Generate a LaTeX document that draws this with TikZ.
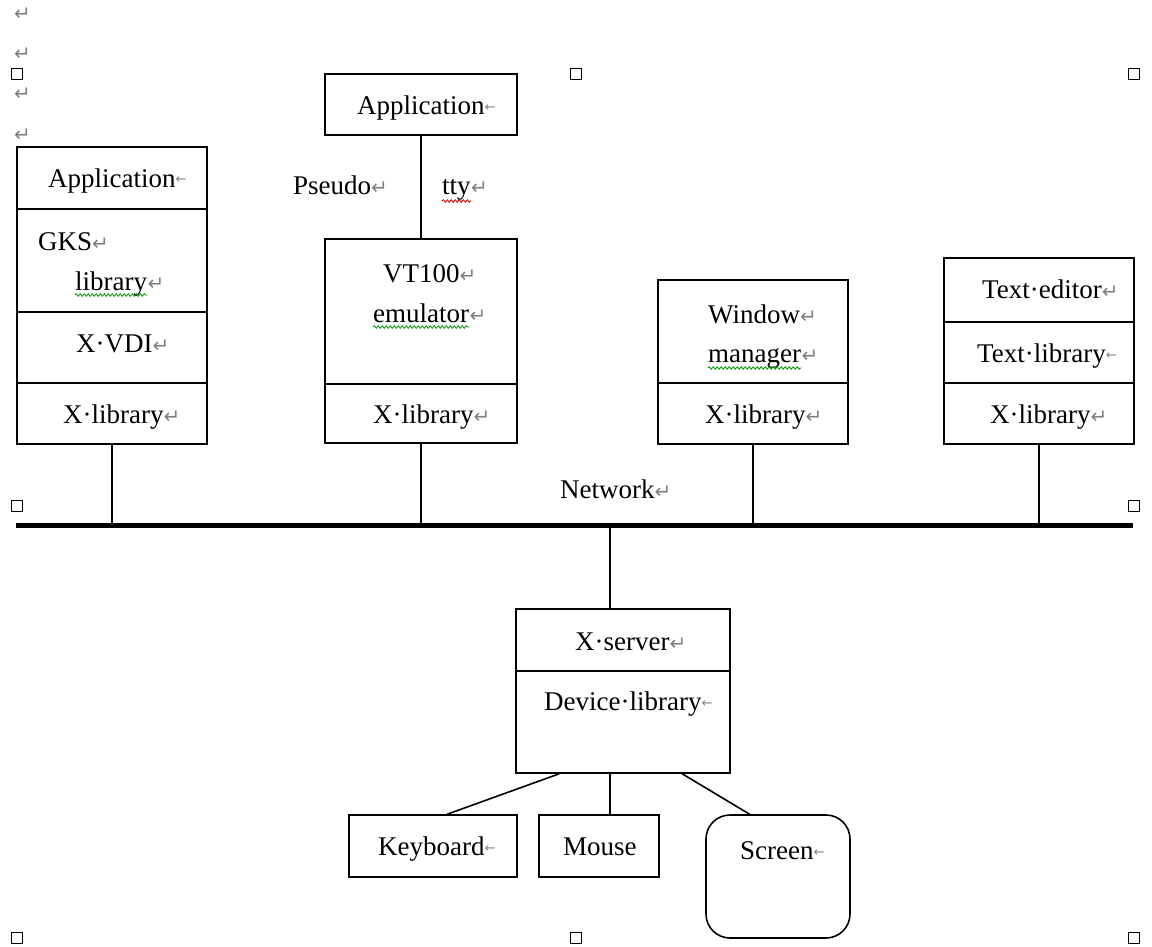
\documentclass[tikz,border=0pt]{standalone}
\usepackage{fontspec}
\setmainfont{Liberation Serif}
\newfontfamily\markfont{DejaVu Sans}
\usetikzlibrary{decorations.pathmorphing}
\definecolor{markgray}{RGB}{128,128,128}
\definecolor{wavegreen}{RGB}{0,150,0}
\definecolor{wavered}{RGB}{225,0,0}
% paragraph mark and line-break mark shown after the words
\newcommand{\parmk}{{\markfont\fontsize{20}{20}\selectfont\color{markgray}↵}}
\newcommand{\brkmk}{\raisebox{3pt}{\markfont\fontsize{13}{13}\selectfont\color{markgray}←}}
\tikzset{
  box/.style={draw=black, line width=1.6pt, inner sep=0pt, fill=white},
  txt/.style={anchor=base west, inner sep=0pt, font=\fontsize{27}{27}\selectfont},
  mk/.style={anchor=base west, inner sep=0pt},
  wire/.style={line width=1.6pt},
  bus/.style={line width=5pt},
  handle/.style={draw=black, line width=1.3pt, minimum size=11pt, inner sep=0pt, fill=white},
  wavyg/.style={draw=wavegreen, line width=0.8pt, decorate, decoration={snake, amplitude=1.3pt, segment length=4pt}},
  wavyr/.style={draw=wavered, line width=0.8pt, decorate, decoration={snake, amplitude=1.3pt, segment length=4pt}}
}
\begin{document}
\begin{tikzpicture}[x=1pt, y=-1pt]
\useasboundingbox[fill=white] (0,0) rectangle (1152,947);

% empty paragraph marks at the top left
\node[mk] (m1) at (14,21) {\parmk};
\node[mk] (m2) at (14,61) {\parmk};
\node[mk] (m3) at (14,101) {\parmk};
\node[mk] (m4) at (14,142) {\parmk};

% sizing handles of the drawing canvas
\node[handle] (h1) at (17,74) {};
\node[handle] (h2) at (576,74) {};
\node[handle] (h3) at (1134,74) {};
\node[handle] (h4) at (17,506) {};
\node[handle] (h5) at (1134,506) {};
\node[handle] (h6) at (17,938) {};
\node[handle] (h7) at (576,938) {};
\node[handle] (h8) at (1134,938) {};

% ---- GKS application stack
\node[box, minimum width=190pt, minimum height=297pt] (gks) at (112,295.5) {};
\draw[wire] (gks.west |- 0,209) -- (gks.east |- 0,209);
\draw[wire] (gks.west |- 0,312) -- (gks.east |- 0,312);
\draw[wire] (gks.west |- 0,383) -- (gks.east |- 0,383);
\node[txt] (gksapp) at (48,187) {Application\brkmk};
\node[txt] (gksa) at (38,250) {GKS\parmk};
\node[txt] (gksb) at (75,290) {library};
\node[mk] (gksbm) at (gksb.base east) {\parmk};
\draw[wavyg] ([yshift=-5pt]gksb.base west) -- ([yshift=-5pt]gksb.base east);
\node[txt] (gksvdi) at (76,352) {X·VDI\parmk};
\node[txt] (gkslib) at (63,423) {X·library\parmk};

% ---- terminal emulator stack with its pseudo-tty application
\node[box, minimum width=192pt, minimum height=61pt] (ptyapp) at (421,104.5) {};
\node[txt] (ptyapptxt) at (357,115) {Application\brkmk};
\node[box, minimum width=192pt, minimum height=204pt] (vt) at (421,341) {};
\draw[wire] (vt.west |- 0,384) -- (vt.east |- 0,384);
\draw[wire] (ptyapp.south) -- (vt.north);
\node[txt] (pseudo) at (293,195) {Pseudo\parmk};
\node[txt] (tty) at (442,195) {tty};
\node[mk] (ttym) at (tty.base east) {\parmk};
\draw[wavyr] ([yshift=-6pt]tty.base west) -- ([yshift=-6pt]tty.base east);
\node[txt] (vta) at (383,282) {VT100\parmk};
\node[txt] (vtb) at (373,322) {emulator};
\node[mk] (vtbm) at (vtb.base east) {\parmk};
\draw[wavyg] ([yshift=-5pt]vtb.base west) -- ([yshift=-5pt]vtb.base east);
\node[txt] (vtlib) at (373,423) {X·library\parmk};

% ---- window manager stack
\node[box, minimum width=190pt, minimum height=164pt] (wm) at (753,362) {};
\draw[wire] (wm.west |- 0,383) -- (wm.east |- 0,383);
\node[txt] (wma) at (708,323) {Window\parmk};
\node[txt] (wmb) at (708,362) {manager};
\node[mk] (wmbm) at (wmb.base east) {\parmk};
\draw[wavyg] ([yshift=-6pt]wmb.base west) -- ([yshift=-6pt]wmb.base east);
\node[txt] (wmlib) at (705,423) {X·library\parmk};

% ---- text editor stack
\node[box, minimum width=190pt, minimum height=186pt] (te) at (1039,351) {};
\draw[wire] (te.west |- 0,322) -- (te.east |- 0,322);
\draw[wire] (te.west |- 0,383) -- (te.east |- 0,383);
\node[txt] (tea) at (982,298) {Text·editor\parmk};
\node[txt] (teb) at (977,362) {Text·library\brkmk};
\node[txt] (telib) at (990,423) {X·library\parmk};

% ---- network
\coordinate (busW) at (16,525.5);
\coordinate (busE) at (1133,525.5);
\draw[bus] (busW) -- (busE);
\node[txt] (net) at (560,498) {Network\parmk};
\draw[wire] (gks.south) -- (gks.south |- busW);
\draw[wire] (vt.south) -- (vt.south |- busW);
\draw[wire] (wm.south) -- (wm.south |- busW);
\draw[wire] (te.south) -- (te.south |- busW);

% ---- X server and its devices
\node[box, minimum width=214pt, minimum height=164pt] (xs) at (623,691) {};
\draw[wire] (xs.west |- 0,671) -- (xs.east |- 0,671);
\node[txt] (xsa) at (575,650) {X·server\parmk};
\node[txt] (xsb) at (544,710) {Device·library\brkmk};
\draw[wire] ([xshift=95pt]xs.north west) -- ([xshift=95pt]xs.north west |- busW);

\node[box, minimum width=168pt, minimum height=62pt] (kb) at (433,846) {};
\node[txt] (kbt) at (378,855) {Keyboard\brkmk};
\node[box, minimum width=120pt, minimum height=62pt] (mouse) at (599,846) {};
\node[txt] (mouset) at (563,855) {Mouse};
\node[box, rounded corners=24pt, minimum width=144pt, minimum height=123pt] (scr) at (778,876.5) {};
\node[txt] (scrt) at (740,859) {Screen\brkmk};

\draw[wire] ([xshift=44pt]xs.south west) -- ([xshift=99pt]kb.north west);
\draw[wire] ([xshift=95pt]xs.south west) -- ([xshift=72pt]mouse.north west);
\draw[wire] ([xshift=167pt]xs.south west) -- ([xshift=46pt,yshift=-1pt]scr.north west);
\end{tikzpicture}
\end{document}
